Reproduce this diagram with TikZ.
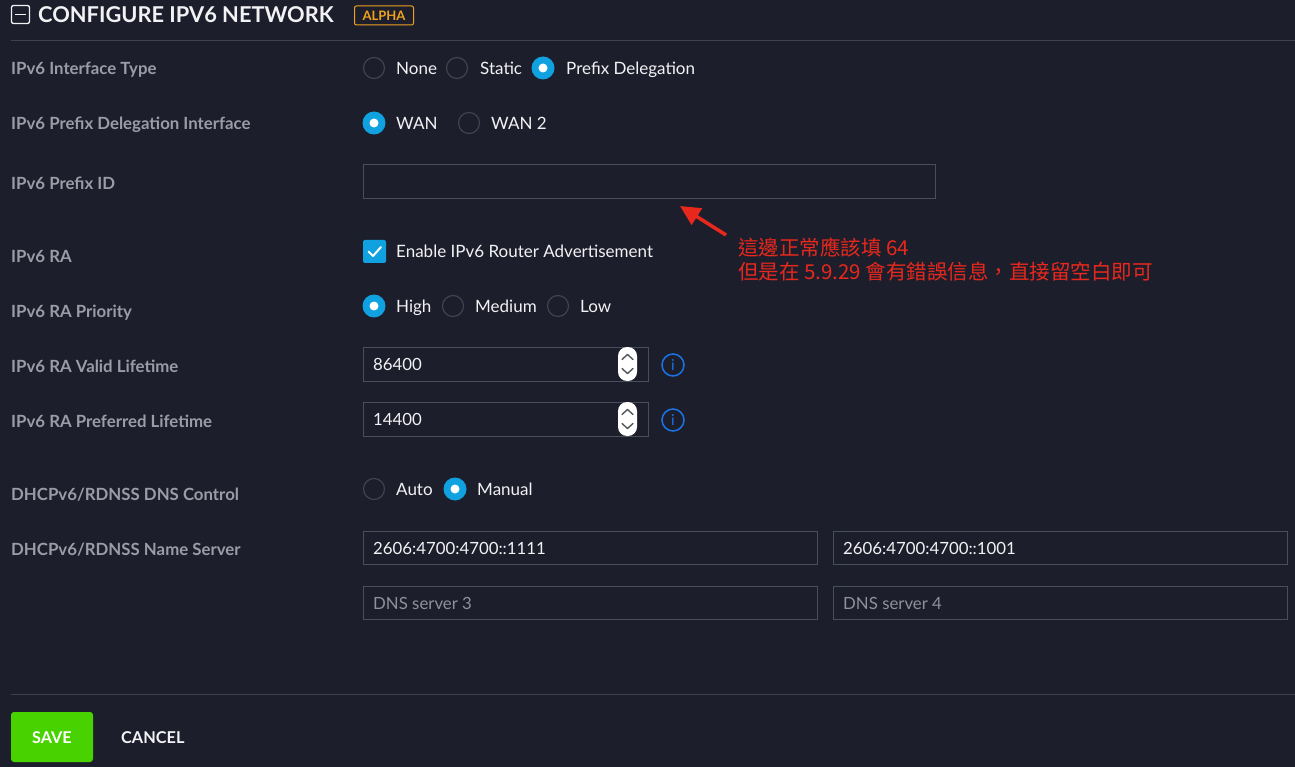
\documentclass[tikz,border=0pt]{standalone}
\usepackage{fontspec}
\setmainfont{Lato}
\newfontfamily\cjk{Noto Sans CJK TC}
\usetikzlibrary{arrows.meta}
\definecolor{bg}{HTML}{1D1E2C}
\definecolor{rule}{HTML}{3E424C}
\definecolor{lbl}{HTML}{9A9DA6}
\definecolor{opt}{HTML}{F2F2F4}
\definecolor{ring}{HTML}{3F434D}
\definecolor{sel}{HTML}{10A2E0}
\definecolor{field}{HTML}{4A4E57}
\definecolor{ph}{HTML}{8E9199}
\definecolor{alpha}{HTML}{F0A21E}
\definecolor{note}{HTML}{E8281C}
\definecolor{info}{HTML}{1A74E6}
\definecolor{savegreen}{HTML}{48D200}
\tikzset{
  lbltext/.style={anchor=mid west, inner sep=0pt, yshift=-3.5pt, text=lbl, font=\fontsize{16.8}{19}\selectfont\bfseries},
  opttext/.style={anchor=mid west, inner sep=0pt, yshift=-3.5pt, text=opt, font=\fontsize{17}{19}\selectfont},
  radiooff/.style={circle, draw=ring, line width=1.2pt, minimum size=21pt, inner sep=0pt},
  radioon/.style={circle, fill=sel, minimum size=23pt, inner sep=0pt, path picture={\fill[white] (path picture bounding box.center) circle (4.5pt);}},
  fieldbox/.style={draw=field, line width=1pt},
  fieldtext/.style={anchor=mid west, inner sep=0pt, yshift=-3.5pt, text=opt, font=\fontsize{16.8}{19}\selectfont},
  phtext/.style={anchor=mid west, inner sep=0pt, yshift=-3.5pt, text=ph, font=\fontsize{16.8}{19}\selectfont},
  infoicon/.style={circle, draw=info, line width=1.5pt, minimum size=22pt, inner sep=0pt, text=info, font=\fontsize{15}{15}\selectfont},
  notetext/.style={anchor=north west, inner sep=0pt, text=note, align=left, font=\fontsize{20.5}{24}\selectfont\cjk},
}
\begin{document}
\begin{tikzpicture}[x=1pt,y=-1pt]
\fill[bg] (0,0) rectangle (1295,767);
\useasboundingbox (0,0) rectangle (1295,767);
% header
\draw[opt, line width=1.3pt, rounded corners=2pt] (11.5,5.5) rectangle (29.5,23.5);
\draw[opt, line width=1.3pt] (15,14.5) -- (26,14.5);
\node[anchor=mid west, inner sep=0pt, yshift=-4.5pt, text=opt, font=\fontsize{21.8}{24}\selectfont\bfseries] (title) at (38,15) {CONFIGURE IPV6 NETWORK};
\node[draw=alpha, line width=1pt, rounded corners=2pt, minimum width=59pt, minimum height=19pt, inner sep=0pt, text=alpha, font=\fontsize{13}{13}\selectfont\bfseries] (alphatag) at (384,15.5) {ALPHA};
\draw[rule, line width=1pt] (11,41) -- (1295,41);
% labels
\node[lbltext] (l1) at (11,68) {IPv6 Interface Type};
\node[lbltext] (l2) at (11,123) {IPv6 Prefix Delegation Interface};
\node[lbltext] (l3) at (11,183) {IPv6 Prefix ID};
\node[lbltext] (l4) at (11,256) {IPv6 RA};
\node[lbltext] (l5) at (11,311) {IPv6 RA Priority};
\node[lbltext] (l6) at (11,366) {IPv6 RA Valid Lifetime};
\node[lbltext] (l7) at (11,421) {IPv6 RA Preferred Lifetime};
\node[lbltext] (l8) at (11,494) {DHCPv6/RDNSS DNS Control};
\node[lbltext] (l9) at (11,549) {DHCPv6/RDNSS Name Server};
% interface type
\node[radiooff] (r1a) at (374,68) {};
\node[opttext] (t1a) at (396,68) {None};
\node[radiooff] (r1b) at (457,68) {};
\node[opttext] (t1b) at (480,68) {Static};
\node[radioon] (r1c) at (543,68) {};
\node[opttext] (t1c) at (566,68) {Prefix Delegation};
% delegation interface
\node[radioon] (r2a) at (374,123) {};
\node[opttext] (t2a) at (396,123) {WAN};
\node[radiooff] (r2b) at (469,123) {};
\node[opttext] (t2b) at (491,123) {WAN 2};
% prefix id
\draw[fieldbox] (363.5,164.5) rectangle (935.5,198.5);
\coordinate (prefixbox) at (680,206);
% RA
\fill[sel, rounded corners=2pt] (363,240) rectangle (386,263);
\draw[white, line width=2pt, line cap=round, line join=round] (368.5,251.5) -- (373,256) -- (381,247);
\node[opttext] (t4) at (396,251) {Enable IPv6 Router Advertisement};
% RA priority
\node[radioon] (r5a) at (374,306) {};
\node[opttext] (t5a) at (396,306) {High};
\node[radiooff] (r5b) at (453,306) {};
\node[opttext] (t5b) at (475,306) {Medium};
\node[radiooff] (r5c) at (558,306) {};
\node[opttext] (t5c) at (580,306) {Low};
% valid lifetime
\draw[fieldbox] (363.5,347.5) rectangle (648.5,381.5);
\node[fieldtext] (v6) at (373,364.5) {86400};
\fill[white, rounded corners=9pt] (618,347) rectangle (637,381);
\draw[ph!60!black, line width=1.4pt, line cap=round, line join=round] (622,359.5) -- (627.5,354.5) -- (633,359.5);
\draw[ph!60!black, line width=1.4pt, line cap=round, line join=round] (622,368.5) -- (627.5,373.5) -- (633,368.5);
\node[infoicon] (i6) at (673,365) {i};
% preferred lifetime
\draw[fieldbox] (363.5,402.5) rectangle (648.5,436.5);
\node[fieldtext] (v7) at (373,419.5) {14400};
\fill[white, rounded corners=9pt] (618,402) rectangle (637,436);
\draw[ph!60!black, line width=1.4pt, line cap=round, line join=round] (622,414.5) -- (627.5,409.5) -- (633,414.5);
\draw[ph!60!black, line width=1.4pt, line cap=round, line join=round] (622,423.5) -- (627.5,428.5) -- (633,423.5);
\node[infoicon] (i7) at (673,420) {i};
% DNS control
\node[radiooff] (r8a) at (374,489) {};
\node[opttext] (t8a) at (396,489) {Auto};
\node[radioon] (r8b) at (455,489) {};
\node[opttext] (t8b) at (477,489) {Manual};
% name servers
\draw[fieldbox] (363.5,531.5) rectangle (817.5,564.5);
\node[fieldtext] (n1) at (373,548) {2606:4700:4700::1111};
\draw[fieldbox] (833.5,531.5) rectangle (1287.5,564.5);
\node[fieldtext] (n2) at (843,548) {2606:4700:4700::1001};
\draw[fieldbox] (363.5,586.5) rectangle (817.5,619.5);
\node[phtext] (n3) at (373,603) {DNS server 3};
\draw[fieldbox] (833.5,586.5) rectangle (1287.5,619.5);
\node[phtext] (n4) at (843,603) {DNS server 4};
% note
\node[notetext] (notenode) at (738,237.5) {這邊正常應該填 64\\但是在 5.9.29 會有錯誤信息，直接留空白即可};
\coordinate (notetail) at (726,235);
\draw[note, line width=3.5pt, -{Triangle[length=20pt,width=19pt]}] (notetail) -- (prefixbox);
% footer
\draw[rule, line width=1pt] (11,694) -- (1295,694);
\fill[savegreen, rounded corners=3pt] (11,712) rectangle (93,762);
\node[anchor=mid, inner sep=0pt, yshift=-3.5pt, text=white, font=\fontsize{16.2}{17}\selectfont\bfseries] (save) at (52,737) {SAVE};
\node[anchor=mid west, inner sep=0pt, yshift=-3.5pt, text=opt, font=\fontsize{16.3}{17}\selectfont\bfseries] (cancel) at (121,737) {CANCEL};
\end{tikzpicture}
\end{document}
